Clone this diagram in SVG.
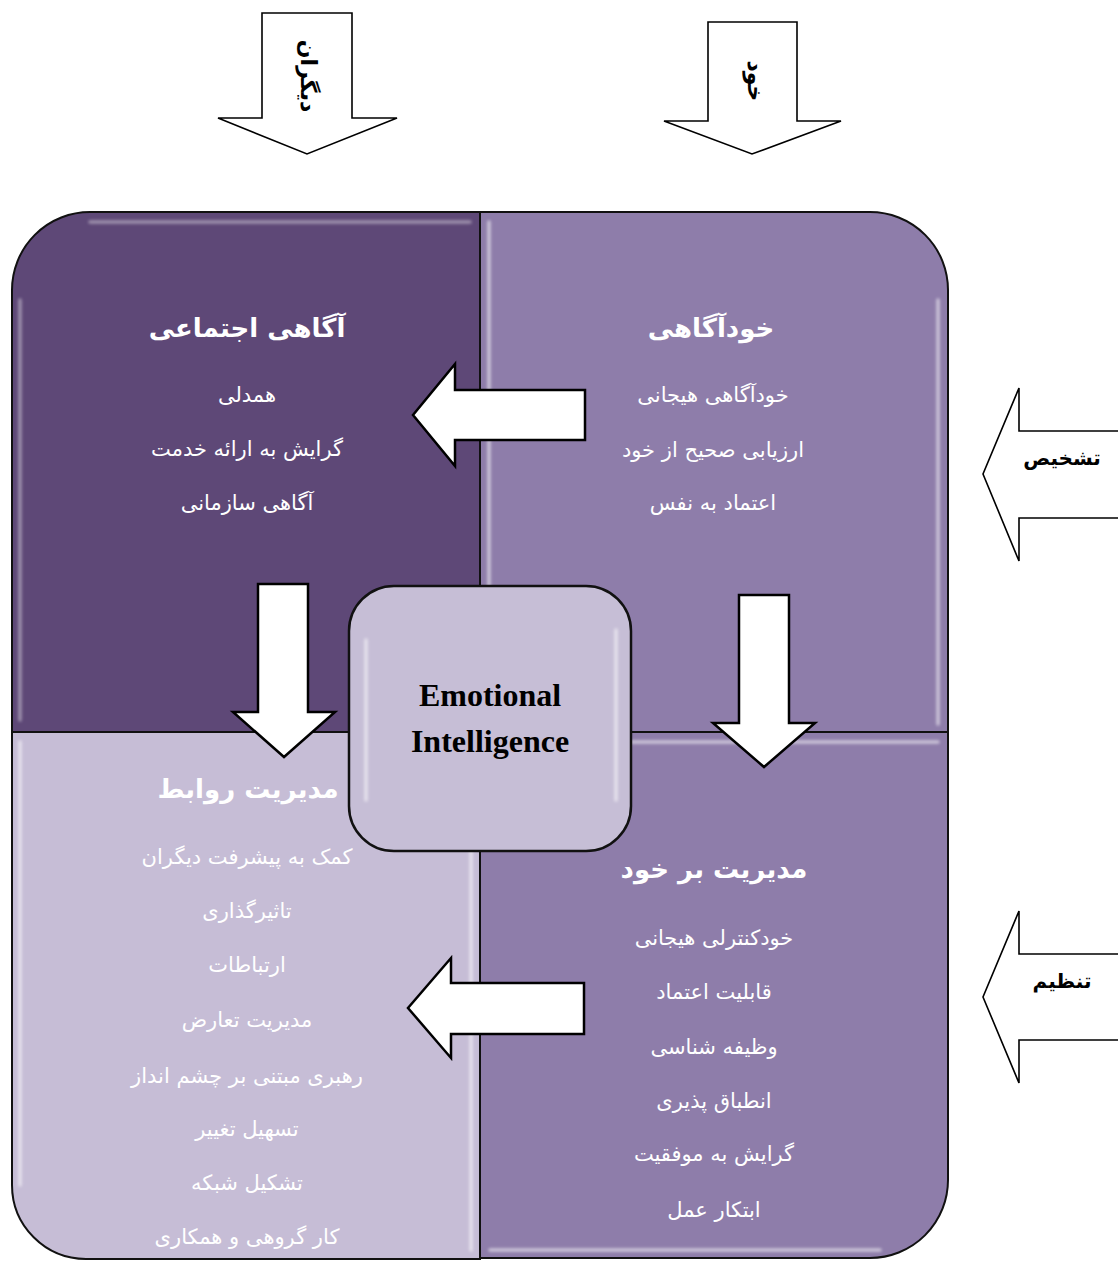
<svg xmlns="http://www.w3.org/2000/svg" width="1118" height="1261" viewBox="0 0 1118 1261">
  <style>
    .quad { stroke: #111; stroke-width: 2; }
    .gloss { fill: none; stroke: #ffffff; stroke-width: 3.5; stroke-linecap: round; opacity: 0.55; filter: url(#soft); }
    .blk { fill: #ffffff; stroke: #000; stroke-width: 2.5; stroke-linejoin: miter; }
    .outl { fill: #ffffff; stroke: #000; stroke-width: 1.6; stroke-linejoin: miter; }
    .fa { font-family: "DejaVu Sans", "Noto Sans", sans-serif; text-anchor: middle; direction: rtl; }
    .head { font-size: 26px; font-weight: bold; fill: #ffffff; }
    .item { font-size: 21px; fill: #ffffff; }
    .lbl { font-size: 20px; font-weight: bold; fill: #000; }
    .en { font-family: "Liberation Serif", serif; font-weight: bold; font-size: 32px; fill: #000; text-anchor: middle; }
  </style>
  <defs>
    <filter id="soft" x="-10%" y="-10%" width="120%" height="120%">
      <feGaussianBlur stdDeviation="1.4"/>
    </filter>
  </defs>

  <rect width="1118" height="1261" fill="#ffffff"/>

  <!-- top direction arrows -->
  <g id="arrow-others">
    <path class="outl" d="M262,13 H352 V118 H397 L307,154 L218,118 H262 Z"/>
    <text class="fa lbl" transform="translate(308,76) rotate(90)" dy="7" style="font-size:22px">دیگران</text>
  </g>
  <g id="arrow-self">
    <path class="outl" d="M708,22 H797 V121 H841 L752,154 L664,121 H708 Z"/>
    <text class="fa lbl" transform="translate(755,81) rotate(90)" dy="7" style="font-size:22px">خود</text>
  </g>

  <!-- side arrows -->
  <g id="arrow-recognition">
    <path class="outl" d="M1120,431 H1019 V388 L983,474 L1019,561 V518 H1120"/>
    <text class="fa lbl" x="1062" y="465">تشخیص</text>
  </g>
  <g id="arrow-regulation">
    <path class="outl" d="M1120,954 H1019 V911 L983,997 L1019,1083 V1040 H1120"/>
    <text class="fa lbl" x="1062" y="988">تنظیم</text>
  </g>

  <!-- quadrant: social awareness -->
  <g id="social-awareness">
    <path class="quad" fill="#5E4877" d="M12,732 V290 A78,78 0 0 1 90,212 H480 V732 Z"/>
    <path class="gloss" d="M90,222 H470 M20,300 V720" style="opacity:0.4"/>
    <text class="fa head" x="247" y="337">آگاهی اجتماعی</text>
    <text class="fa item" x="247" y="402">همدلی</text>
    <text class="fa item" x="247" y="456">گرایش به ارائه خدمت</text>
    <text class="fa item" x="247" y="510">آگاهی سازمانی</text>
  </g>

  <!-- quadrant: self awareness -->
  <g id="self-awareness">
    <path class="quad" fill="#8E7DAA" d="M480,212 H870 A78,78 0 0 1 948,290 V732 H480 Z"/>
    <path class="gloss" d="M489,222 V724 M938,300 V724"/>
    <text class="fa head" x="711" y="337">خودآگاهی</text>
    <text class="fa item" x="713" y="402">خودآگاهی هیجانی</text>
    <text class="fa item" x="713" y="457">ارزیابی صحیح از خود</text>
    <text class="fa item" x="713" y="510">اعتماد به نفس</text>
  </g>

  <!-- quadrant: relationship management -->
  <g id="relationship-management">
    <path class="quad" fill="#C6BDD6" d="M12,732 H480 V1259 H86 A74,74 0 0 1 12,1185 Z"/>
    <path class="gloss" d="M20,742 V1185 M471,742 V1250"/>
    <text class="fa head" x="248" y="798">مدیریت روابط</text>
    <text class="fa item" x="247" y="864">کمک به پیشرفت دیگران</text>
    <text class="fa item" x="247" y="918">تاثیرگذاری</text>
    <text class="fa item" x="247" y="972">ارتباطات</text>
    <text class="fa item" x="247" y="1027">مدیریت تعارض</text>
    <text class="fa item" x="247" y="1083">رهبری مبتنی بر چشم انداز</text>
    <text class="fa item" x="247" y="1136">تسهیل تغییر</text>
    <text class="fa item" x="247" y="1190">تشکیل شبکه</text>
    <text class="fa item" x="247" y="1244">کار گروهی و همکاری</text>
  </g>

  <!-- quadrant: self management -->
  <g id="self-management">
    <path class="quad" fill="#8E7DAA" d="M480,732 H948 V1180 A78,78 0 0 1 870,1258 H480 Z"/>
    <path class="gloss" d="M489,742 H938 M490,1250 H880"/>
    <text class="fa head" x="714" y="878">مدیریت بر خود</text>
    <text class="fa item" x="714" y="945">خودکنترلی هیجانی</text>
    <text class="fa item" x="714" y="999">قابلیت اعتماد</text>
    <text class="fa item" x="714" y="1054">وظیفه شناسی</text>
    <text class="fa item" x="714" y="1108">انطباق پذیری</text>
    <text class="fa item" x="714" y="1161">گرایش به موفقیت</text>
    <text class="fa item" x="714" y="1217">ابتکار عمل</text>
  </g>

  <!-- flow arrows between quadrants -->
  <g id="connectors">
    <path class="blk" d="M585,390 H455 V364 L413,415 L455,466 V440 H585 Z"/>
    <path class="blk" d="M584,983 H451 V958 L408,1008 L451,1058 V1034 H584 Z"/>
    <path class="blk" d="M258,584 H308 V712 H335 L284,757 L233,712 H258 Z"/>
    <path class="blk" d="M739,595 H789 V723 H815 L764,767 L713,723 H739 Z"/>
  </g>

  <!-- centre node -->
  <g id="emotional-intelligence">
    <rect x="349" y="586" width="282" height="265" rx="45" fill="#C6BED6" stroke="#111" stroke-width="2.5"/>
    <path class="gloss" d="M366,640 V800 M616,630 V800"/>
    <text class="en" x="490" y="706">Emotional</text>
    <text class="en" x="490" y="752">Intelligence</text>
  </g>
</svg>
